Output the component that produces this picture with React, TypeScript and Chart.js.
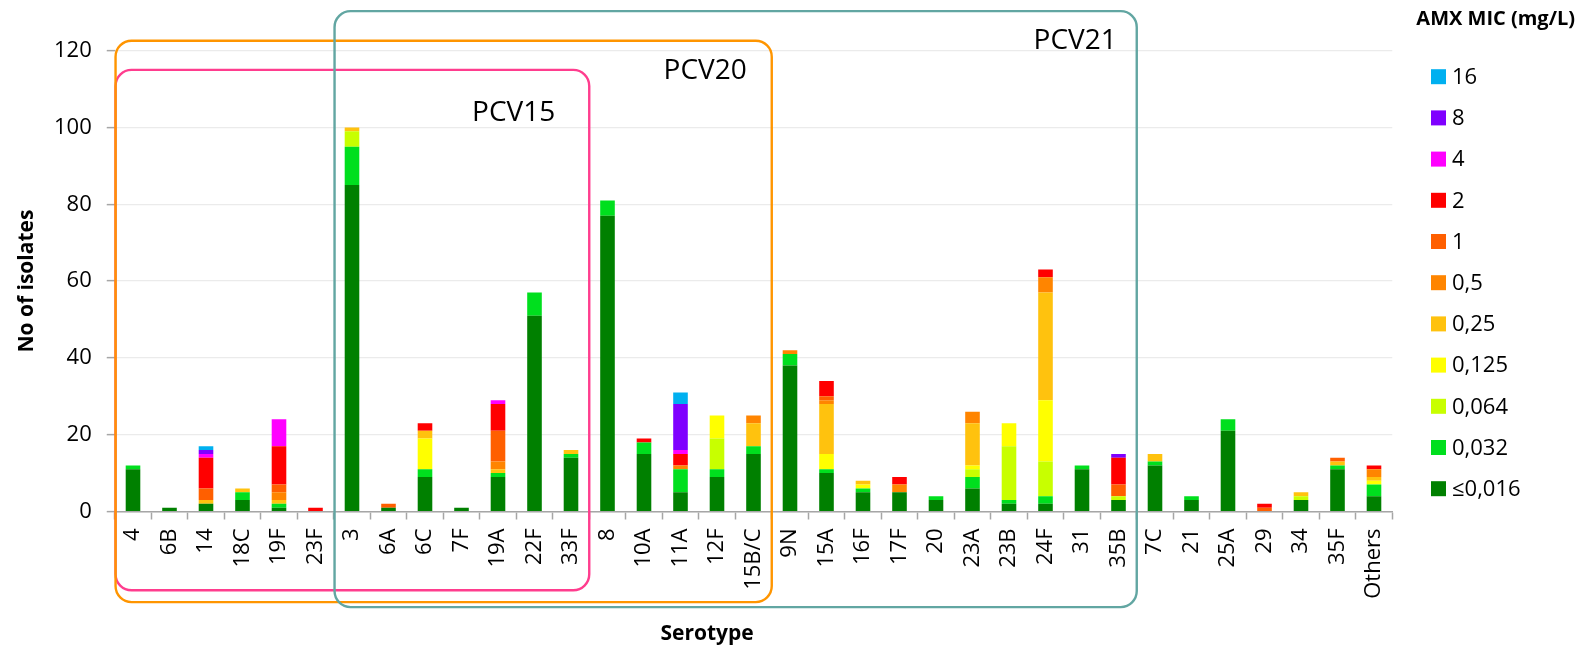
import React, { useEffect, useRef } from "react";
import { Chart, registerables } from "chart.js";

Chart.register(...registerables);

const FONT = "'Open Sans', 'Noto Sans', sans-serif";

// Serotypes (x categories)
const serotypes = [
  "4", "6B", "14", "18C", "19F", "23F", "3", "6A", "6C", "7F", "19A", "22F", "33F",
  "8", "10A", "11A", "12F", "15B/C", "9N", "15A", "16F", "17F", "20", "23A", "23B",
  "24F", "31", "35B", "7C", "21", "25A", "29", "34", "35F", "Others",
];

// AMX MIC classes (stack order bottom -> top)
const micLabels = ["≤0,016", "0,032", "0,064", "0,125", "0,25", "0,5", "1", "2", "4", "8", "16"];
const micColors = [
  "#008000", "#00DF1E", "#C8FF00", "#FFFF00", "#FFC20E", "#FF8500",
  "#FF5F00", "#FF0000", "#FF00FF", "#7F00FF", "#00B0F0",
];

// Number of isolates per MIC class, per serotype
const mic016 = [11, 1, 2, 3, 1, 0, 85, 1, 9, 1, 9, 51, 14, 77, 15, 5, 9, 15, 38, 10, 5, 5, 3, 6, 2, 2, 11, 3, 12, 3, 21, 0, 3, 11, 4];
const mic032 = [1, 0, 0, 2, 1, 0, 10, 0, 2, 0, 1, 6, 1, 4, 3, 6, 2, 2, 3, 1, 1, 0, 1, 3, 1, 2, 1, 0, 1, 1, 3, 0, 0, 1, 3];
const mic064 = [0, 0, 0, 0, 0, 0, 4, 0, 0, 0, 0, 0, 0, 0, 0, 0, 8, 0, 0, 0, 0, 0, 0, 2, 14, 9, 0, 1, 0, 0, 0, 0, 1, 0, 0];
const mic125 = [0, 0, 0, 0, 0, 0, 0, 0, 8, 0, 0, 0, 0, 0, 0, 0, 6, 0, 0, 4, 1, 0, 0, 1, 6, 16, 0, 0, 0, 0, 0, 0, 0, 0, 1];
const mic25 = [0, 0, 1, 1, 1, 0, 1, 0, 2, 0, 1, 0, 1, 0, 0, 0, 0, 6, 0, 13, 1, 0, 0, 11, 0, 28, 0, 0, 2, 0, 0, 0, 1, 1, 1];
const mic5 = [0, 0, 0, 0, 2, 0, 0, 0, 0, 0, 2, 0, 0, 0, 0, 1, 0, 2, 1, 1, 0, 2, 0, 3, 0, 4, 0, 0, 0, 0, 0, 0, 0, 0, 2];
const mic1 = [0, 0, 3, 0, 2, 0, 0, 1, 0, 0, 8, 0, 0, 0, 0, 0, 0, 0, 0, 1, 0, 0, 0, 0, 0, 0, 0, 3, 0, 0, 0, 1, 0, 1, 0];
const mic2 = [0, 0, 8, 0, 10, 1, 0, 0, 2, 0, 7, 0, 0, 0, 1, 3, 0, 0, 0, 4, 0, 2, 0, 0, 0, 2, 0, 7, 0, 0, 0, 1, 0, 0, 1];
const mic4 = [0, 0, 1, 0, 7, 0, 0, 0, 0, 0, 1, 0, 0, 0, 0, 1, 0, 0, 0, 0, 0, 0, 0, 0, 0, 0, 0, 0, 0, 0, 0, 0, 0, 0, 0];
const mic8 = [0, 0, 1, 0, 0, 0, 0, 0, 0, 0, 0, 0, 0, 0, 0, 12, 0, 0, 0, 0, 0, 0, 0, 0, 0, 0, 0, 1, 0, 0, 0, 0, 0, 0, 0];
const mic16 = [0, 0, 1, 0, 0, 0, 0, 0, 0, 0, 0, 0, 0, 0, 0, 3, 0, 0, 0, 0, 0, 0, 0, 0, 0, 0, 0, 0, 0, 0, 0, 0, 0, 0, 0];

const micSeries = [mic016, mic032, mic064, mic125, mic25, mic5, mic1, mic2, mic4, mic8, mic16];

// y-axis ticks
const yTicks = [0, 20, 40, 60, 80, 100, 120];

// Vaccine coverage groups (first/last serotype index)
const vaccineGroups = [
  { label: "PCV15", first: 0, last: 12, color: "#FF3D8E", top: 115, bottom: -20.5, inset: 34, drop: 43 },
  { label: "PCV20", first: 0, last: 17, color: "#FF9500", top: 122.6, bottom: -23.6, inset: 25, drop: 30 },
  { label: "PCV21", first: 6, last: 27, color: "#62A6A2", top: 130.3, bottom: -24.9, inset: 20, drop: 30 },
];

const overlayPlugin = {
  id: "overlay",
  afterDraw(chart: any) {
    const { ctx } = chart;
    const x = chart.scales.x;
    const y = chart.scales.y;
    const half = (x.getPixelForValue(1) - x.getPixelForValue(0)) / 2;
    ctx.save();
    for (const g of vaccineGroups) {
      const l = x.getPixelForValue(g.first) - half + 0.8;
      const r = x.getPixelForValue(g.last) + half;
      const t = y.getPixelForValue(g.top);
      const b = y.getPixelForValue(g.bottom);
      ctx.strokeStyle = g.color;
      ctx.lineWidth = 2.4;
      ctx.beginPath();
      ctx.roundRect(l, t, r - l, b - t, 16);
      ctx.stroke();
      ctx.fillStyle = "#000";
      ctx.font = `28px ${FONT}`;
      ctx.textAlign = "right";
      ctx.textBaseline = "middle";
      ctx.fillText(g.label, r - g.inset, t + g.drop);
    }

    // Axis titles
    ctx.fillStyle = "#000";
    ctx.font = `bold 21px ${FONT}`;
    ctx.textAlign = "center";
    ctx.textBaseline = "middle";
    const ca = chart.chartArea;
    ctx.fillText("Serotype", ca.left + (ca.right - ca.left) * 0.4637, 634);
    ctx.save();
    ctx.translate(27, (ca.top + ca.bottom) / 2);
    ctx.rotate(-Math.PI / 2);
    ctx.fillText("No of isolates", 0, 0);
    ctx.restore();

    // Legend
    ctx.font = `bold 20px ${FONT}`;
    ctx.textAlign = "right";
    ctx.fillText("AMX MIC (mg/L)", 1575, 19);
    ctx.font = `22px ${FONT}`;
    ctx.textAlign = "left";
    const ds = chart.data.datasets;
    for (let i = 0; i < ds.length; i++) {
      const d = ds[ds.length - 1 - i];
      const cy = 76.7 + i * 41.2;
      ctx.fillStyle = d.backgroundColor;
      ctx.fillRect(1431, cy - 7.5, 15, 15);
      ctx.fillStyle = "#000";
      ctx.fillText(d.label, 1452, cy + 1);
    }
    ctx.restore();
  },
};

export default function App() {
  const ref = useRef<HTMLCanvasElement>(null);
  useEffect(() => {
    document.body.style.margin = "0";
    const canvas = ref.current;
    if (!canvas) return;
    const chart = new Chart(canvas, {
      type: "bar",
      data: {
        labels: serotypes,
        datasets: micSeries.map((s, i) => ({
          label: micLabels[i],
          data: s,
          backgroundColor: micColors[i],
          borderWidth: 0,
          barPercentage: 0.4,
          categoryPercentage: 1,
        })),
      },
      options: {
        responsive: false,
        animation: false,
        devicePixelRatio: 1,
        layout: { padding: { left: 0, top: 50.7, right: 188.75, bottom: 0 } },
        plugins: { legend: { display: false }, tooltip: { enabled: false }, title: { display: false } },
        scales: {
          x: {
            stacked: true,
            afterFit: (scale: any) => { scale.height = 139.5; },
            border: { display: true, color: "#A6A6A6", width: 1.5 },
            grid: {
              display: true,
              drawOnChartArea: false,
              drawTicks: true,
              tickLength: 8,
              offset: true,
              tickColor: "#A6A6A6",
              tickWidth: 1.5,
            },
            ticks: {
              minRotation: 90,
              maxRotation: 90,
              autoSkip: false,
              padding: 9,
              color: "#000",
              font: { family: FONT, size: 22 },
            },
          },
          y: {
            stacked: true,
            min: 0,
            max: 120,
            afterFit: (scale: any) => { scale.width = 114.75; },
            afterBuildTicks: (scale: any) => { scale.ticks = yTicks.map((v) => ({ value: v })); },
            border: { display: false },
            grid: {
              color: "#EBEBEB",
              lineWidth: 1.25,
              drawTicks: true,
              tickLength: 8,
              tickColor: "#A6A6A6",
              tickWidth: 1.5,
            },
            ticks: {
              padding: 15,
              color: "#000",
              font: { family: FONT, size: 22 },
            },
          },
        },
      },
      plugins: [overlayPlugin],
    });
    return () => chart.destroy();
  }, []);
  return <canvas ref={ref} width={1581} height={651} style={{ display: "block" }} />;
}
